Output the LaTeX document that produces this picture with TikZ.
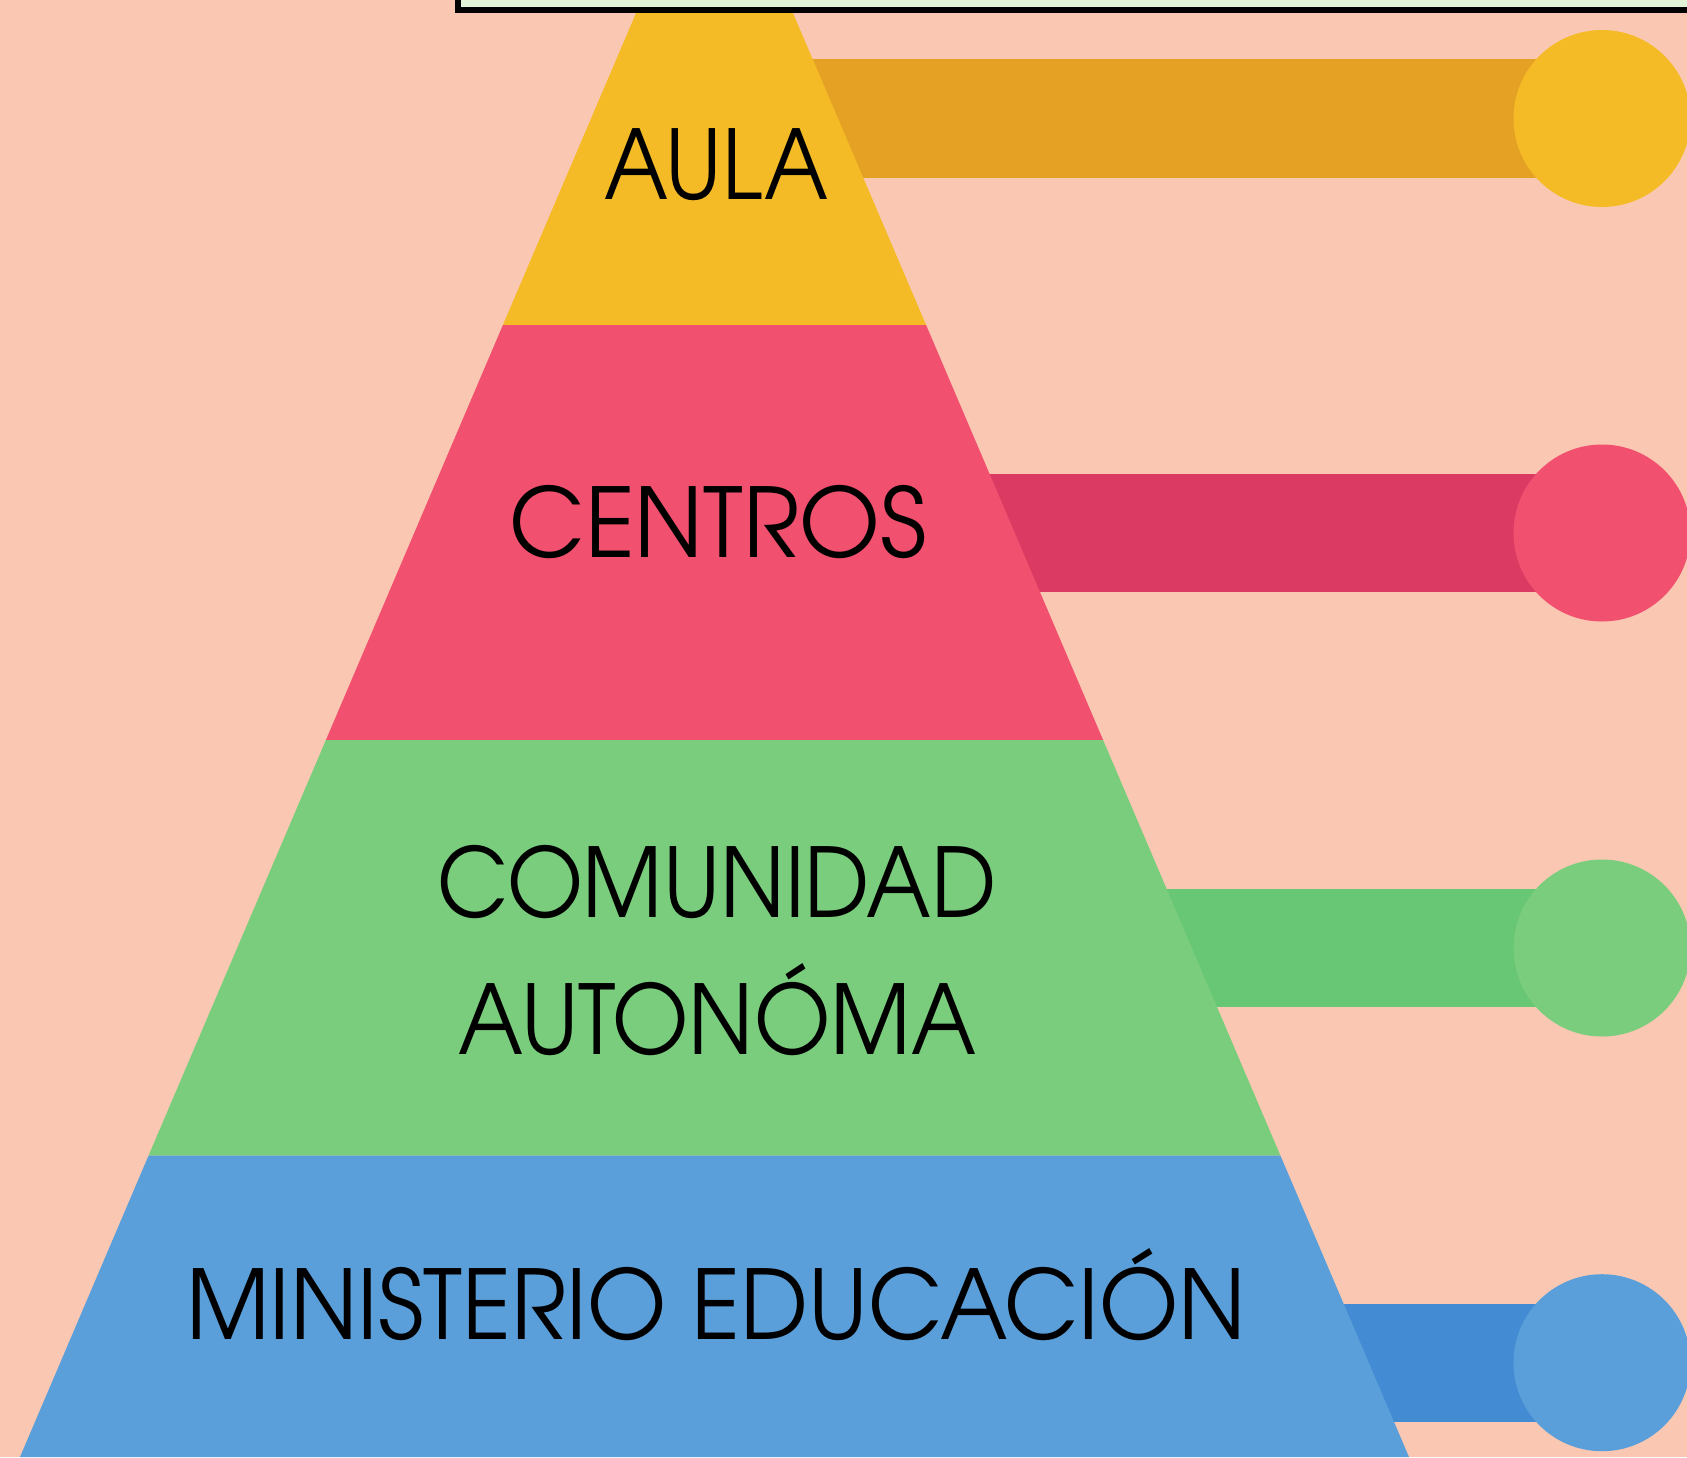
\documentclass[tikz,border=0pt]{standalone}
\usepackage{fontspec}
\newfontfamily\advfont{TeX Gyre Adventor}
\definecolor{bgpeach}{HTML}{FAC8B2}
\definecolor{boxfill}{HTML}{E3F3D8}
\definecolor{lyel}{HTML}{F4BB27}
\definecolor{byel}{HTML}{E5A124}
\definecolor{lred}{HTML}{F2506F}
\definecolor{bred}{HTML}{DB3A62}
\definecolor{lgreen}{HTML}{79CD7D}
\definecolor{bgreen}{HTML}{67C775}
\definecolor{lblue}{HTML}{5A9FDA}
\definecolor{bblue}{HTML}{438CD3}
\tikzset{
  lbl/.style={anchor=base, inner sep=0pt, font=\advfont\fontsize{48}{68.5}\selectfont, text=black, align=center},
  dot/.style={circle, minimum size=88.5pt, inner sep=0pt, draw=none},
}
\begin{document}
\begin{tikzpicture}[x=0.5pt,y=-0.5pt]
\useasboundingbox (0,0) rectangle (1687,1457);
\clip (0,0) rectangle (1687,1457);
\fill[bgpeach] (0,0) rectangle (1687,1457);
% bars behind the pyramid
\fill[byel]   (800,59.3)  rectangle (1602,177.7);
\fill[bred]   (900,474)   rectangle (1602,591.7);
\fill[bgreen] (1050,889)  rectangle (1602,1007);
\fill[bblue]  (1250,1303.5) rectangle (1602,1422);
% pyramid layers
\fill[lyel]   (641.6,0) -- (787.4,0) -- (926.1,325) -- (502.9,325) -- cycle;
\fill[lred]   (502.9,325) -- (926.1,325) -- (1103.1,740) -- (325.9,740) -- cycle;
\fill[lgreen] (325.9,740) -- (1103.1,740) -- (1280.4,1155.5) -- (148.6,1155.5) -- cycle;
\fill[lblue]  (148.6,1155.5) -- (1280.4,1155.5) -- (1409,1457) -- (20,1457) -- cycle;
% circles
\node[dot, fill=lyel]   (c1) at (1602,118.5) {};
\node[dot, fill=lred]   (c2) at (1602,533) {};
\node[dot, fill=lgreen] (c3) at (1602,948) {};
\node[dot, fill=lblue]  (c4) at (1602,1362.7) {};
% top box
\draw[line width=3pt, draw=black, fill=boxfill] (458,-60) rectangle (1760,10.3);
% labels
\node[lbl] (aula) at (716.5,199.3) {\scalebox{0.90}[1]{AULA}};
\node[lbl] (centros) at (718,557.3) {\scalebox{0.967}[1]{CENTROS}};
\node[lbl] (comunidad) at (717,917) {\scalebox{0.91}[1]{COMUNIDAD}};
\node[lbl] (autonoma) at (717.5,1054.4) {\scalebox{0.914}[1]{AUTON\'OMA}};
\node[lbl] (ministerio) at (716,1339) {\scalebox{0.949}[1]{MINISTERIO EDUCACI\'ON}};
\end{tikzpicture}
\end{document}
